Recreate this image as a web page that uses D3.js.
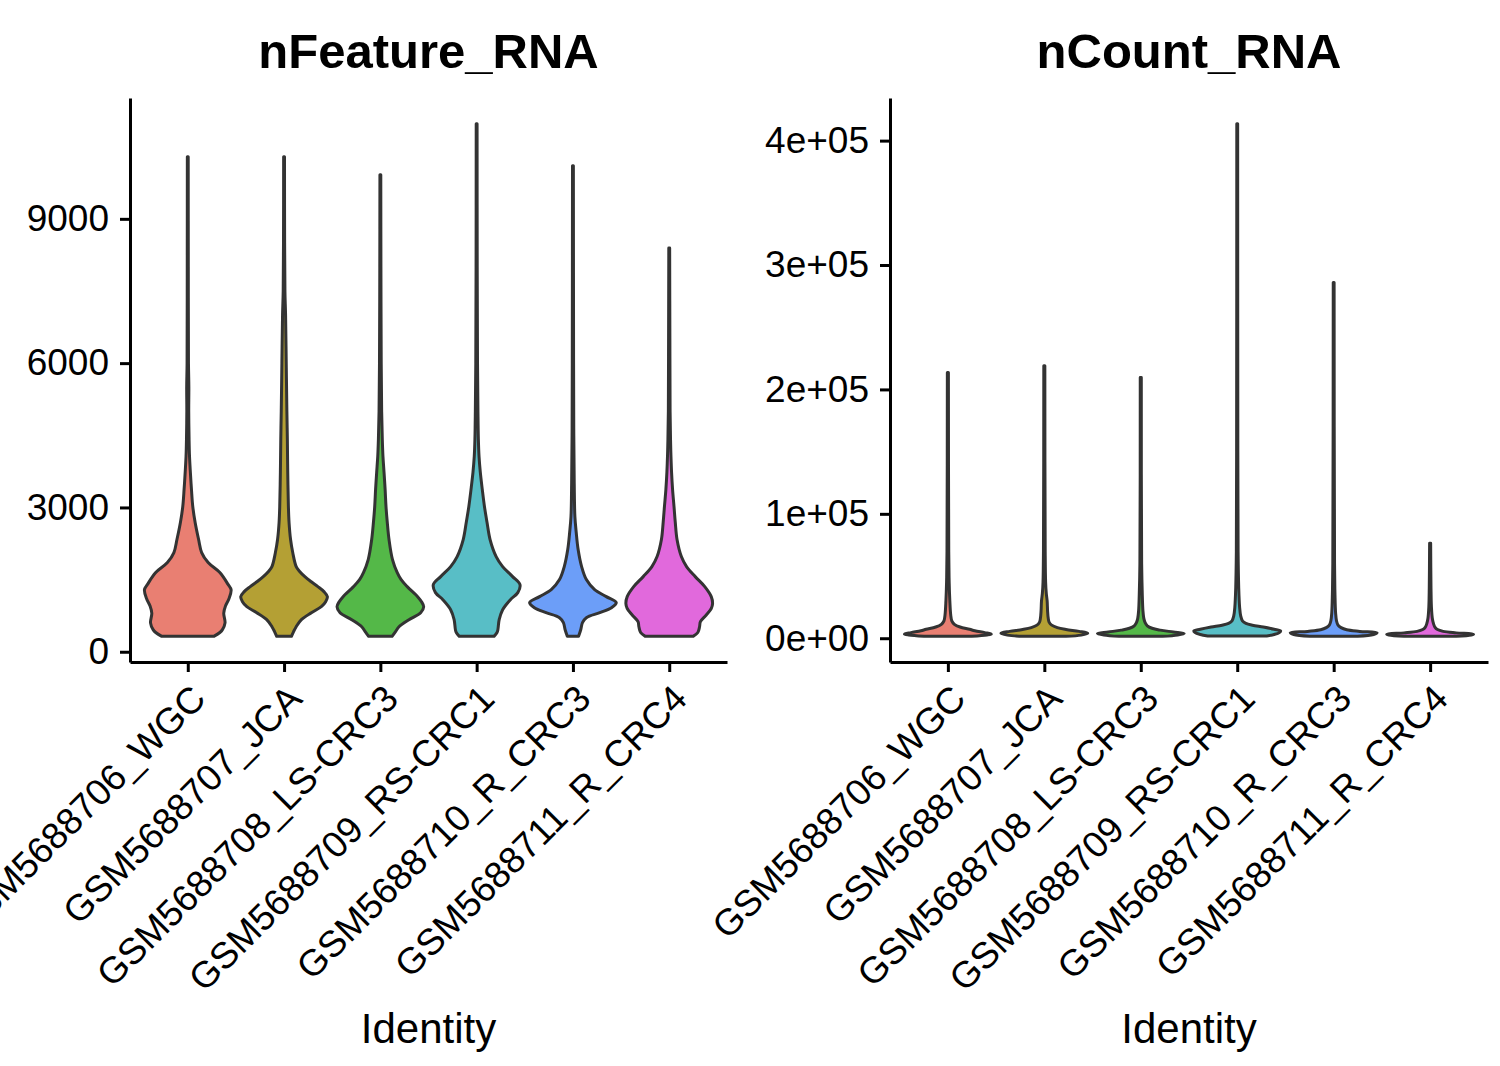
<!DOCTYPE html>
<html>
<head>
<meta charset="utf-8">
<script src="https://cdn.jsdelivr.net/npm/d3@7"></script>
<style>
  body { margin: 0; background: #fff; }
  text { font-family: "Liberation Sans", Arial, Helvetica, sans-serif; }
</style>
</head>
<body>
<div id="chart"></div>
<script>
// sample identities and their fills
var groups = ["GSM5688706_WGC", "GSM5688707_JCA", "GSM5688708_LS-CRC3",
              "GSM5688709_RS-CRC1", "GSM5688710_R_CRC3", "GSM5688711_R_CRC4"];
var fills = ["#E97F72", "#B4A034", "#54B848", "#58BEC6", "#6C9EF8", "#E169DC"];

// violin outlines: [value, relative width]
var featureWGC = [[320,0.6],[400,0.74],[460,0.8],[600,0.86],[800,0.83],[950,0.87],[1100,0.95],[1290,1.0],[1400,0.93],
  [1646,0.74],[1854,0.47],[2062,0.32],[2333,0.25],[2687,0.17],[3021,0.115],[3375,0.085],[3729,0.06],[4063,0.04],
  [4417,0.03],[5000,0.022],[5500,0.025],[6000,0.016],[8000,0.012],[10290,0.01]];
var featureJCA = [[320,0.17],[420,0.22],[521,0.28],[667,0.4],[812,0.63],[937,0.86],[1040,0.96],[1146,1.0],[1250,0.92],
  [1354,0.78],[1460,0.62],[1562,0.48],[1670,0.36],[1771,0.28],[2062,0.2],[2333,0.15],[2687,0.115],[3021,0.1],
  [3729,0.085],[4417,0.076],[5000,0.065],[6000,0.05],[7000,0.035],[7500,0.02],[8500,0.013],[10290,0.01]];
var featureLS = [[320,0.27],[420,0.35],[521,0.43],[667,0.66],[812,0.93],[937,1.0],[1040,0.95],[1146,0.86],[1354,0.62],
  [1500,0.48],[1646,0.39],[1917,0.28],[2333,0.2],[2687,0.16],[3021,0.13],[3375,0.11],[3729,0.085],[4063,0.06],
  [4417,0.045],[5000,0.03],[6000,0.02],[8000,0.013],[9917,0.01]];
var featureRS = [[320,0.4],[400,0.47],[458,0.49],[667,0.52],[875,0.6],[1083,0.78],[1229,0.95],[1396,1.0],[1562,0.83],
  [1771,0.6],[1979,0.45],[2333,0.31],[2687,0.24],[3021,0.18],[3375,0.13],[3729,0.085],[4063,0.055],[4417,0.04],
  [5000,0.03],[6000,0.02],[8000,0.013],[10979,0.01]];
var featureR3 = [[320,0.13],[458,0.18],[604,0.22],[708,0.31],[812,0.62],[917,0.89],[1021,1.0],[1146,0.77],[1292,0.5],
  [1500,0.31],[1771,0.2],[2125,0.12],[2479,0.076],[2812,0.045],[3500,0.03],[4500,0.02],[6000,0.015],[10104,0.01]];
var featureR4 = [[320,0.55],[400,0.66],[520,0.7],[625,0.72],[760,0.85],[900,0.97],[1000,1.0],[1146,0.97],[1354,0.82],
  [1562,0.6],[1771,0.4],[1979,0.28],[2333,0.18],[2687,0.14],[3021,0.11],[3375,0.077],[3729,0.054],[4063,0.04],
  [4417,0.03],[5000,0.02],[6500,0.015],[8396,0.01]];

var countWGC = [[1500,0.55],[2600,0.9],[3300,1.0],[4500,0.85],[6000,0.62],[7200,0.5],[9000,0.28],[11200,0.15],
  [14000,0.09],[19000,0.065],[30000,0.045],[45000,0.03],[70000,0.02],[213650,0.012]];
var countJCA = [[1500,0.5],[2500,0.85],[4000,1.0],[5500,0.8],[7000,0.5],[8500,0.3],[10500,0.17],[13000,0.11],
  [16000,0.09],[22000,0.075],[30000,0.065],[36000,0.045],[45000,0.03],[70000,0.02],[219000,0.012]];
var countLS = [[1500,0.5],[2500,0.85],[3700,1.0],[5000,0.75],[6500,0.45],[8000,0.26],[10000,0.15],[12500,0.1],
  [16000,0.07],[22000,0.05],[35000,0.035],[60000,0.02],[209600,0.012]];
var countRS = [[1800,0.68],[3000,0.85],[4500,0.97],[5900,1.0],[7200,0.85],[9000,0.6],[10500,0.35],[12000,0.2],
  [14000,0.12],[18000,0.08],[25000,0.055],[40000,0.035],[70000,0.02],[150000,0.014],[413650,0.01]];
var countR3 = [[1500,0.55],[3000,0.92],[4300,1.0],[5500,0.6],[6800,0.3],[8500,0.17],[10500,0.1],[14000,0.065],
  [20000,0.045],[35000,0.03],[60000,0.02],[286000,0.01]];
var countR4 = [[1500,0.6],[2500,0.95],[3200,1.0],[4300,0.6],[5500,0.3],[7000,0.17],[9000,0.11],[12000,0.075],
  [16000,0.05],[25000,0.03],[40000,0.02],[76300,0.012]];

var featureTicks = [0, 3000, 6000, 9000];
var countTicks = [0, 100000, 200000, 300000, 400000];
var countTickLabels = ["0e+00", "1e+05", "2e+05", "3e+05", "4e+05"];

var svg = d3.select("#chart")
  .append("svg")
    .attr("width", 1500)
    .attr("height", 1066);

var plotTop = 98, plotBottom = 662;

function drawPanel(p) {
  var all = d3.merge(p.profiles);
  var lo = d3.min(all, d => d[0]), hi = d3.max(all, d => d[0]);
  var pad = (hi - lo) * 0.05;

  var y = d3.scaleLinear()
    .domain([lo - pad, hi + pad])
    .range([plotBottom, plotTop]);
  var x = d3.scalePoint()
    .domain(groups)
    .range([p.left, p.right])
    .padding(0.6);
  var half = x.step() * 0.45;

  // violins
  p.profiles.forEach(function(prof, i) {
    var cx = x(groups[i]);
    var area = d3.area()
      .curve(d3.curveCatmullRom.alpha(0.5))
      .y(d => y(d[0]))
      .x0(d => cx - d[1] * half)
      .x1(d => cx + d[1] * half);
    svg.append("path")
      .datum(prof)
      .attr("d", area)
      .attr("fill", fills[i])
      .attr("stroke", "#333333")
      .attr("stroke-width", 3)
      .attr("stroke-linejoin", "round");
  });

  // y axis
  var ya = svg.append("g")
    .attr("transform", "translate(" + p.left + ",0)")
    .call(d3.axisLeft(y).tickValues(p.ticks).tickSize(10).tickSizeOuter(0).tickPadding(11)
      .tickFormat((d, i) => p.tickLabels ? p.tickLabels[i] : d));
  ya.selectAll("text").attr("font-size", 37).attr("fill", "#000")
    .attr("font-family", "'Liberation Sans', Arial, sans-serif");
  ya.selectAll("line").attr("stroke", "#000").attr("stroke-width", 3);
  ya.select(".domain").attr("stroke", "#000").attr("stroke-width", 3);

  // x axis
  var xa = svg.append("g")
    .attr("transform", "translate(0," + plotBottom + ")")
    .call(d3.axisBottom(x).tickSize(10).tickSizeOuter(0).tickFormat(""));
  xa.selectAll("line").attr("stroke", "#000").attr("stroke-width", 3);
  xa.select(".domain").attr("stroke", "#000").attr("stroke-width", 3);

  svg.append("g").selectAll("text")
    .data(groups)
    .enter().append("text")
      .attr("transform", d => "translate(" + (x(d) + 1) + "," + (plotBottom + 20) + ") rotate(-45)")
      .attr("text-anchor", "end")
      .attr("dy", "0.72em")
      .attr("font-size", 37)
      .attr("fill", "#000")
      .text(d => d);

  var mid = (p.left + p.right) / 2;
  svg.append("text")
    .attr("x", mid).attr("y", 68)
    .attr("text-anchor", "middle")
    .attr("font-size", 49)
    .attr("font-weight", "bold")
    .text(p.title);

  svg.append("text")
    .attr("x", mid).attr("y", 1043)
    .attr("text-anchor", "middle")
    .attr("font-size", 42)
    .text("Identity");
}

drawPanel({
  title: "nFeature_RNA", left: 130, right: 727,
  profiles: [featureWGC, featureJCA, featureLS, featureRS, featureR3, featureR4],
  ticks: featureTicks
});

drawPanel({
  title: "nCount_RNA", left: 890, right: 1488,
  profiles: [countWGC, countJCA, countLS, countRS, countR3, countR4],
  ticks: countTicks, tickLabels: countTickLabels
});
</script>
</body>
</html>
